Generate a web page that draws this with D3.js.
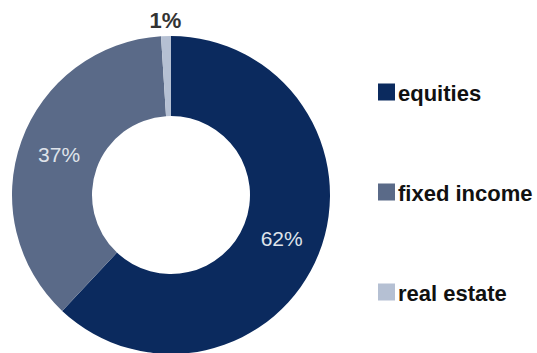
<!DOCTYPE html>
<html>
<head>
<meta charset="utf-8">
<script src="https://cdn.jsdelivr.net/npm/d3@7"></script>
<style>
  html, body { margin: 0; padding: 0; background: #fff; }
  svg { display: block; }
</style>
</head>
<body>
<svg id="chart" width="537" height="353"></svg>
<script>
// Asset allocation (percent of portfolio)
const categories = ["equities", "fixed income", "real estate"];
const values = [62, 37, 1];
const colors = ["#0b2a5e", "#5a6a88", "#b5c0d3"];

const svg = d3.select("#chart");
const cx = 171, cy = 195, rOuter = 159, rInner = 79;

const pie = d3.pie().sort(null).value(d => d.value);
const arcs = pie(categories.map((c, i) => ({ name: c, value: values[i], color: colors[i] })));
const arc = d3.arc().innerRadius(rInner).outerRadius(rOuter);

const g = svg.append("g").attr("transform", `translate(${cx},${cy})`);

g.selectAll("path.slice")
  .data(arcs)
  .join("path")
  .attr("class", "slice")
  .attr("d", arc)
  .attr("fill", d => d.data.color);

// Value labels: inside the ring for large slices, above the ring for the tiny one
const outerLabelArc = d3.arc().innerRadius(rOuter + 16).outerRadius(rOuter + 16);
g.selectAll("text.val")
  .data(arcs)
  .join("text")
  .attr("class", "val")
  .attr("transform", d => {
    const [x, y] = d.data.value < 5 ? outerLabelArc.centroid(d) : arc.centroid(d);
    return `translate(${x},${y})`;
  })
  .attr("text-anchor", "middle")
  .attr("dominant-baseline", "central")
  .attr("font-family", "Liberation Sans, Arial, sans-serif")
  .attr("font-size", d => d.data.value < 5 ? 22 : 21)
  .attr("font-weight", d => d.data.value < 5 ? "bold" : "normal")
  .attr("fill", d => d.data.value < 5 ? "#333333" : "#dfe3ea")
  .text(d => d.data.value + "%");

// Legend
const legendY = d3.scalePoint().domain(categories).range([92, 292]);
const legend = svg.append("g").attr("transform", "translate(378,0)");
const item = legend.selectAll("g.item")
  .data(categories)
  .join("g")
  .attr("class", "item")
  .attr("transform", d => `translate(0,${legendY(d)})`);

item.append("rect")
  .attr("x", 0).attr("y", -8.5)
  .attr("width", 17).attr("height", 17)
  .attr("fill", (d, i) => colors[i]);

item.append("text")
  .attr("x", 20).attr("y", 9)
  .attr("font-family", "Liberation Sans, Arial, sans-serif")
  .attr("font-size", 22)
  .attr("font-weight", "bold")
  .attr("fill", "#111")
  .text(d => d);
</script>
</body>
</html>
